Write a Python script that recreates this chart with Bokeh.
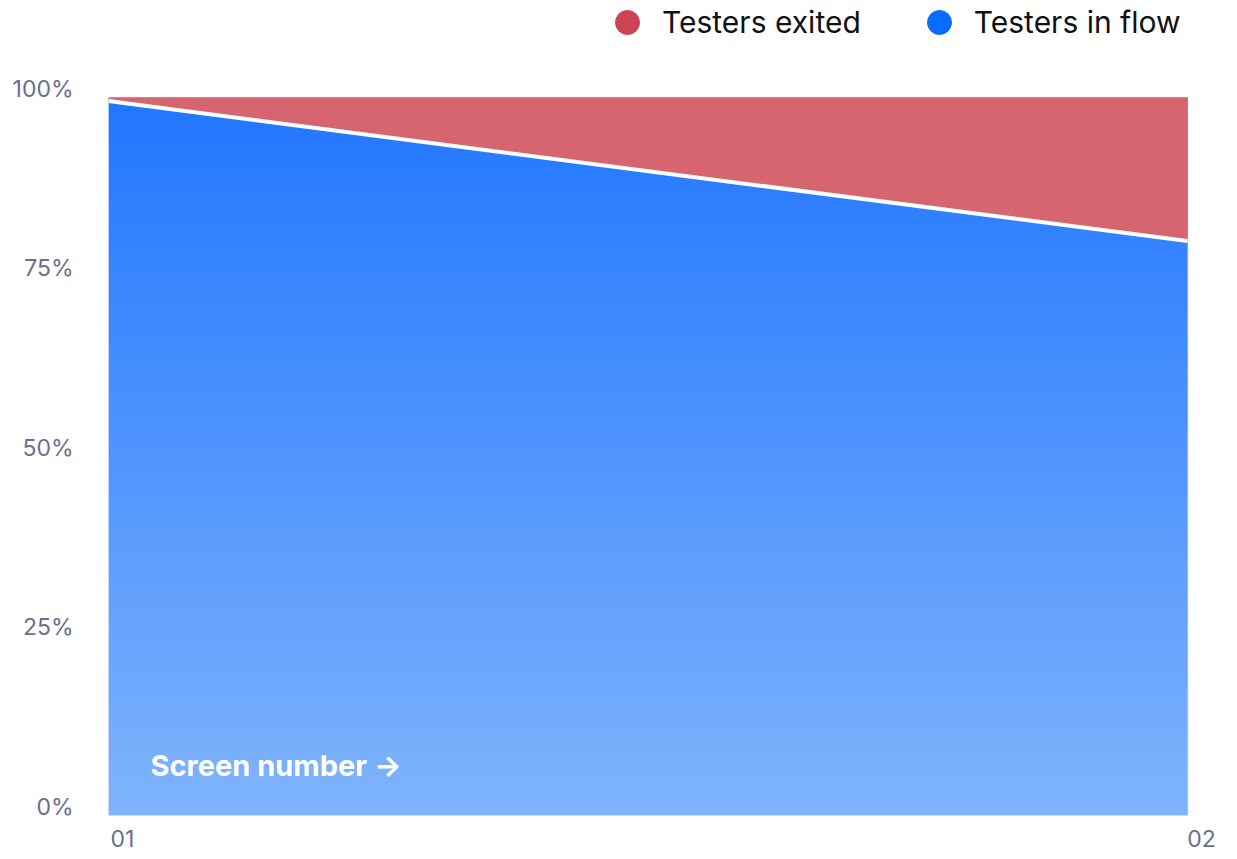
import numpy as np
from bokeh.plotting import figure
from bokeh.models import Range1d, FixedTicker, Legend, LegendItem, Label
from bokeh.embed import file_html
from bokeh.resources import INLINE

# ---- data ----
screens = ["01", "02"]
in_flow = [99.5, 80.0]          # % of testers still in the flow
total = [100.0, 100.0]          # top of the stack (100 %)
y_ticks = [0, 25, 50, 75, 100]
y_labels = ["0%", "25%", "50%", "75%", "100%"]
series_names = ["Testers exited", "Testers in flow"]

xs = list(range(len(screens)))

# ---- layout constants (pixels) ----
PX_X = 1079.0      # px per x unit
PX_Y = 7.18        # px per percent
W, H = 1227, 857
BL, BR, BT, BB = 108, 8, 0, 42
FRAME_W = W - BL - BR
FRAME_H = H - BT - BB
X_OFF = 0.013      # label shift (left aligned look)
Y_OFF = 1.25       # label shift (labels sit above tick)

FONT = "Inter"
TICK_COLOR = "#6B6F8C"
RED = "#D6656F"
RED_DOT = "#CC4451"
BLUE_DOT = "#0A6BFF"

p = figure(width=W, height=H,
           x_range=Range1d(0, FRAME_W / PX_X), y_range=Range1d(0, FRAME_H / PX_Y),
           output_backend="svg", toolbar_location=None,
           min_border_left=BL, min_border_right=BR, min_border_top=BT, min_border_bottom=BB)
p.grid.visible = False
p.outline_line_color = None
p.background_fill_color = "white"

# frame edges (light grey)
p.segment(x0=[xs[0], xs[-1], xs[0]], y0=[0, 0, 0], x1=[xs[0], xs[-1], xs[-1]], y1=[total[0], total[-1], 0],
          line_color="#CDD1DD", line_width=1.5)

# gradient for the "in flow" area
n = 718
t = np.linspace(0.0, 1.0, n)[:, None]
bottom = np.array([128, 180, 252], dtype=float)
top = np.array([33, 118, 255], dtype=float)
rgb = bottom + (top - bottom) * t
img = np.empty((n, 2), dtype=np.uint32)
view = img.view(dtype=np.uint8).reshape((n, 2, 4))
for c in range(3):
    view[:, :, c] = np.repeat(np.round(rgb[:, c:c + 1]), 2, axis=1).astype(np.uint8)
view[:, :, 3] = 255
p.image_rgba(image=[img], x=xs[0], y=0, dw=xs[-1] - xs[0], dh=max(total))

# exited area (stacked above in-flow)
p.varea(x=xs, y1=in_flow, y2=total, fill_color=RED)
# separator line
p.line(xs, in_flow, line_color="white", line_width=4)

# legend (renderers hold a single non-drawn point)
r_exit = p.scatter(x=[np.nan], y=[np.nan], size=24, fill_color=RED_DOT, line_color=RED_DOT)
r_flow = p.scatter(x=[np.nan], y=[np.nan], size=24, fill_color=BLUE_DOT, line_color=BLUE_DOT)
legend = Legend(items=[LegendItem(label=series_names[0], renderers=[r_exit], index=0),
                       LegendItem(label=series_names[1], renderers=[r_flow], index=0)],
                location=(489, 763), orientation="horizontal",
                glyph_width=60, glyph_height=60, label_standoff=5, spacing=48,
                padding=0, margin=0, border_line_color=None, background_fill_alpha=0,
                label_text_font=FONT, label_text_font_size="30px", label_text_color="#111111")
p.add_layout(legend)

# in-chart axis title
p.add_layout(Label(x=42, y=50, x_units="screen", y_units="screen", text="Screen number \u2192",
                   text_font=FONT, text_font_size="29px", text_font_style="bold",
                   text_color="white", text_baseline="middle"))

# axes
xt = [x + X_OFF for x in xs]
p.xaxis.ticker = FixedTicker(ticks=xt)
p.xaxis.major_label_overrides = {k: v for k, v in zip(xt, screens)}
yt = [y + Y_OFF for y in y_ticks]
p.yaxis.ticker = FixedTicker(ticks=yt)
p.yaxis.major_label_overrides = {k: v for k, v in zip(yt, y_labels)}
for ax in (p.xaxis, p.yaxis):
    ax.axis_line_color = None
    ax.major_tick_line_color = None
    ax.minor_tick_line_color = None
    ax.major_tick_in = 0
    ax.major_tick_out = 0
    ax.major_label_text_font = FONT
    ax.major_label_text_font_size = "23px"
    ax.major_label_text_color = TICK_COLOR
p.yaxis.major_label_standoff = 35
p.xaxis.major_label_standoff = 14

open("out.html", "w").write(file_html(p, INLINE))
